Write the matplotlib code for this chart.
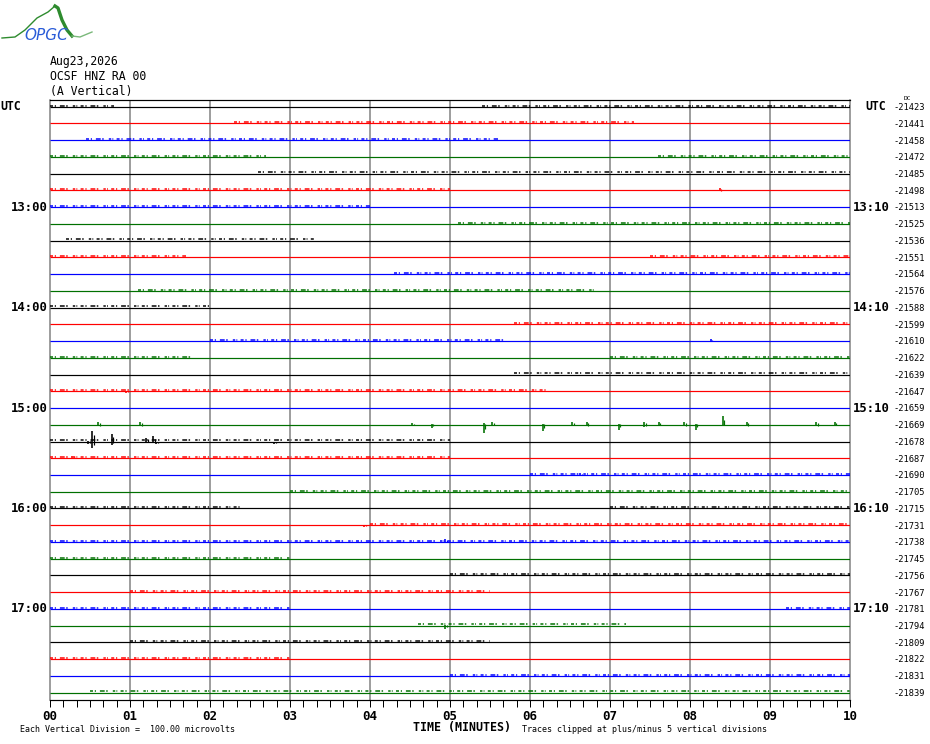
import matplotlib
matplotlib.use('Agg')
import matplotlib.pyplot as plt
import matplotlib.transforms as mtransforms

# helicorder: 36 traces of 10 minutes, 12:00 -> 17:50 UTC
trace_colors = ['black', 'red', '#0000ff', '#007000']
dc_values = ['-21423', '-21441', '-21458', '-21472', '-21485', '-21498',
             '-21513', '-21525', '-21536', '-21551', '-21564', '-21576',
             '-21588', '-21599', '-21610', '-21622', '-21639', '-21647',
             '-21659', '-21669', '-21678', '-21687', '-21690', '-21705',
             '-21715', '-21731', '-21738', '-21745', '-21756', '-21767',
             '-21781', '-21794', '-21809', '-21822', '-21831', '-21839']
hour_left = ['13:00', '14:00', '15:00', '16:00', '17:00']
hour_right = ['13:10', '14:10', '15:10', '16:10', '17:10']
hour_trace = [6, 12, 18, 24, 30]
minute_ticks = [0, 1, 2, 3, 4, 5, 6, 7, 8, 9, 10]
minute_labels = ['00', '01', '02', '03', '04', '05', '06', '07', '08', '09', '10']

# visible spikes (trace, minute, amplitude up, amplitude down) in trace spacings
ev_trace = [20, 20, 20, 20, 20, 20, 20, 20,
            19, 19, 19, 19, 19, 19, 19, 19, 19, 19, 19, 19, 19, 19, 19, 19, 19, 19,
            21, 5, 31, 22, 25, 26, 14, 17]
ev_min = [0.48, 0.53, 0.77, 1.20, 1.29, 1.33, 2.80, 3.41,
          0.60, 1.125, 4.53, 4.77, 5.42, 5.53, 6.16, 6.53, 6.71, 7.11, 7.43, 7.61,
          7.93, 8.07, 8.41, 8.71, 9.58, 9.81,
          0.28, 8.37, 4.94, 6.63, 3.93, 4.94, 8.26, 0.95]
ev_up = [0.05, 0.63, 0.44, 0.24, 0.30, 0.00, 0.00, 0.00,
         0.15, 0.15, 0.12, 0.05, 0.12, 0.18, 0.05, 0.18, 0.18, 0.05, 0.18, 0.18,
         0.15, 0.05, 0.50, 0.18, 0.15, 0.18,
         0.14, 0.15, 0.02, 0.10, 0.00, 0.15, 0.10, 0.00]
ev_down = [0.15, 0.40, 0.20, 0.06, 0.06, 0.12, 0.15, 0.10,
           0.10, 0.10, 0.05, 0.18, 0.48, 0.00, 0.36, 0.05, 0.10, 0.30, 0.15, 0.05,
           0.10, 0.30, 0.05, 0.10, 0.10, 0.05,
           0.00, 0.05, 0.20, 0.00, 0.12, 0.00, 0.00, 0.10]

# stretches of background noise (trace, start minute, end minute)
busy_trace = [0, 0, 1, 2, 3, 3, 4, 5, 6, 7, 8, 9, 9, 10, 11, 12, 13, 14, 15, 15,
              16, 17, 20, 21, 22, 23, 24, 24, 25, 26, 27, 28, 29, 30, 30, 31, 32,
              33, 34, 35]
busy_start = [0.0, 5.4, 2.3, 0.45, 0.0, 7.6, 2.6, 0.0, 0.0, 5.1, 0.2, 0.0, 7.5,
              4.3, 1.1, 0.0, 5.8, 2.0, 0.0, 7.0, 5.8, 0.0, 0.0, 0.0, 6.0, 3.0,
              0.0, 7.0, 4.0, 0.0, 0.0, 5.0, 1.0, 0.0, 9.2, 4.6, 1.0, 0.0, 5.0, 0.5]
busy_end = [0.8, 10.0, 7.3, 5.6, 2.7, 10.0, 10.0, 5.0, 4.0, 10.0, 3.3, 1.7, 10.0,
            10.0, 6.8, 2.0, 10.0, 5.7, 1.8, 10.0, 10.0, 6.2, 5.0, 5.0, 10.0, 10.0,
            2.4, 10.0, 10.0, 10.0, 3.0, 10.0, 5.5, 3.0, 10.0, 7.2, 5.5, 3.0, 10.0, 10.0]

W, H = 930, 744
fig = plt.figure(figsize=(W / 100, H / 100), dpi=100)
ax = fig.add_axes([50 / W, 1 - 700 / H, 800 / W, 600 / H])

n_traces = len(dc_values)
px = 0.72  # one pixel in points

for i in range(n_traces):
    c = trace_colors[i % 4]
    ax.plot([0, 10], [-i, -i], color=c, lw=1.2 * px, solid_capstyle='butt', zorder=3)

# noise speckle drawn as an uneven dash pattern sitting on the trace
speckle = (0, (2.0, 1.2, 0.8, 2.6, 3.2, 1.0, 1.0, 3.4, 1.6, 0.8, 0.6, 2.2))
for t, s, e in zip(busy_trace, busy_start, busy_end):
    c = trace_colors[t % 4]
    ax.plot([s, e], [-t + 0.07, -t + 0.07], color=c, lw=1.5 * px,
            ls=speckle, dash_capstyle='butt', zorder=3)

for t, m, u, d in zip(ev_trace, ev_min, ev_up, ev_down):
    c = trace_colors[t % 4]
    ax.vlines(m, -t - d, -t + u, color=c, lw=1.6 * px, zorder=4)
    ax.vlines(m + 0.02, -t - d * 0.5, -t + u * 0.6, color=c, lw=1.2 * px, zorder=4)

ax.set_xlim(0, 10)
ax.set_ylim(-(n_traces - 1) - 0.44, 0.40)

for m in range(1, 10):
    ax.axvline(m, color='#808080', lw=1.5 * px, zorder=2)

for side in ['left', 'right']:
    ax.spines[side].set_color('#808080')
    ax.spines[side].set_linewidth(1.5 * px)
ax.spines['top'].set_color('black')
ax.spines['top'].set_linewidth(1.2 * px)
ax.spines['bottom'].set_color('black')
ax.spines['bottom'].set_linewidth(1.2 * px)

ax.set_yticks([])
ax.set_xticks(minute_ticks)
ax.set_xticklabels(minute_labels, fontfamily='DejaVu Sans Mono', fontweight='bold',
                   fontsize=9)
ax.set_xticks([m / 6 for m in range(61)], minor=True)
ax.tick_params(axis='x', which='both', direction='out', length=7 * px,
               width=1 * px, color='black', pad=2)

mono = 'DejaVu Sans Mono'
blend = mtransforms.blended_transform_factory(fig.transFigure, ax.transData)

# header
fig.text(50 / W, 1 - 61 / H, 'Aug23,2026', fontfamily=mono, fontsize=8.3, va='center')
fig.text(50 / W, 1 - 76 / H, 'OCSF HNZ RA 00', fontfamily=mono, fontsize=8.3, va='center')
fig.text(50 / W, 1 - 91 / H, '(A Vertical)', fontfamily=mono, fontsize=8.3, va='center')

# logo
fig.text(46 / W, 1 - 36 / H, 'OPGC', color='#2a5cd8', fontsize=11, style='italic',
         fontfamily='DejaVu Sans', ha='center', va='center')
logo = fig.add_axes([0, 1 - 45 / H, 100 / W, 45 / H])
logo.plot([2, 15, 25, 37, 48, 55], [7, 8, 15, 27, 33, 39], color='#2e8b2e', lw=1)
logo.plot([55, 58, 62, 67, 72], [39, 37, 25, 15, 9], color='#2e8b2e', lw=2.4)
logo.plot([72, 80, 92], [9, 8, 13], color='#7ab87a', lw=1)
logo.set_xlim(0, 100)
logo.set_ylim(0, 45)
logo.axis('off')

# time labels
fig.text(0 / W, 1 - 107 / H, 'UTC', fontfamily=mono, fontweight='bold', fontsize=8.3,
         va='center')
fig.text(865 / W, 1 - 107 / H, 'UTC', fontfamily=mono, fontweight='bold', fontsize=8.3,
         va='center')
fig.text(904 / W, 1 - 99 / H, 'DC', fontfamily=mono, fontsize=4.5, va='center')
for lab_l, lab_r, t in zip(hour_left, hour_right, hour_trace):
    ax.text(48 / W, -t, lab_l, transform=blend, fontfamily=mono, fontweight='bold',
            fontsize=8.8, ha='right', va='center')
    ax.text(853 / W, -t, lab_r, transform=blend, fontfamily=mono, fontweight='bold',
            fontsize=8.8, ha='left', va='center')
for i, v in enumerate(dc_values):
    ax.text(893 / W, -i - 0.05, v, transform=blend, fontfamily=mono, fontsize=6.3,
            ha='left', va='center')

# footer
fig.text(20 / W, 1 - 730 / H, 'Each Vertical Division =  100.00 microvolts',
         fontfamily=mono, fontsize=6, va='center')
fig.text(413 / W, 1 - 728 / H, 'TIME (MINUTES)', fontfamily=mono, fontweight='bold',
         fontsize=8.4, va='center')
fig.text(522 / W, 1 - 730 / H, 'Traces clipped at plus/minus 5 vertical divisions',
         fontfamily=mono, fontsize=6, va='center')

fig.savefig('out.png', dpi=100)
